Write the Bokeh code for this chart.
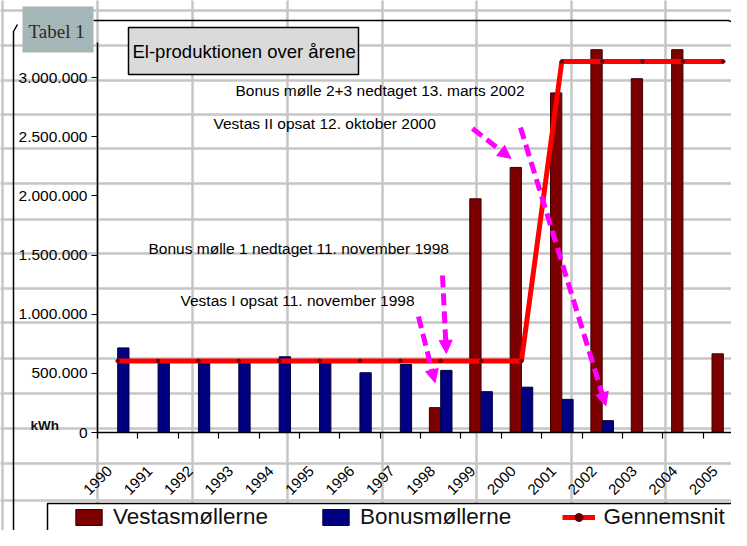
import math
from bokeh.plotting import figure
from bokeh.models import (Range1d, LinearAxis, FixedTicker, Legend, LegendItem,
                          Label, Arrow, NormalHead)
from bokeh.embed import file_html
from bokeh.resources import INLINE

# ---------------- data ----------------
years = ["1990", "1991", "1992", "1993", "1994", "1995", "1996", "1997",
         "1998", "1999", "2000", "2001", "2002", "2003", "2004", "2005"]
vestas = [0, 0, 0, 0, 0, 0, 0, 0,
          210000, 1975000, 2240000, 2870000, 3235000, 2990000, 3235000, 665000]
bonus = [715000, 590000, 590000, 590000, 640000, 585000, 505000, 575000,
         525000, 345000, 383000, 280000, 100000, 0, 0, 0]
gennemsnit = [605000, 605000, 605000, 605000, 605000, 605000, 605000, 605000,
              605000, 605000, 605000, 3135000, 3135000, 3135000, 3135000, 3135000]
y_ticks = [0, 500000, 1000000, 1500000, 2000000, 2500000, 3000000]
y_tick_labels = ["0", "500.000", "1.000.000", "1.500.000", "2.000.000",
                 "2.500.000", "3.000.000"]
series_names = ["Vestasmøllerne", "Bonusmøllerne", "Gennemsnit"]
title_text = "El-produktionen over årene"
tabel_text = "Tabel 1"
unit_text = "kWh"
notes = ["Bonus mølle 2+3 nedtaget 13. marts 2002",
         "Vestas II opsat 12. oktober 2000",
         "Bonus mølle 1 nedtaget 11. november 1998",
         "Vestas I opsat 11. november 1998"]

# ---------------- layout helpers ----------------
W, H = 731, 530
AX_X, AX_Y = 97, 432    # axis origin in canvas pixels
CAT_PX = 40.375         # width of one category
UNIT_PX = 355 / 3e6     # pixels per kWh

def dx(px):
    return (px - AX_X) / CAT_PX

def dy(py):
    return (AX_Y - py) / UNIT_PX

SANS = "Liberation Sans"
SERIF = "Liberation Serif"

n = len(years)
centers = [i + 0.5 for i in range(n)]
bounds_x = [float(i) for i in range(n + 1)]
label_ticks = [round(c - 0.2, 2) for c in centers]   # rotated labels sit slightly left
BW = 0.28

p = figure(width=W, height=H,
           x_range=Range1d(dx(0), dx(W)),
           y_range=Range1d(dy(H), dy(0)),
           output_backend="svg", toolbar_location=None, title=None,
           x_axis_type=None, y_axis_type=None, min_border=0,
           outline_line_color=None, background_fill_color="white",
           border_fill_color="white")

# spreadsheet grid behind the chart
grid_x = [2, 97, 192, 287, 382, 476, 571, 665]
grid_y = [10, 45, 80, 114, 148, 183, 219, 253, 288, 322, 358, 393, 428, 463, 500, 535]
p.segment(x0=[dx(g) for g in grid_x], x1=[dx(g) for g in grid_x],
          y0=[dy(-10)] * len(grid_x), y1=[dy(560)] * len(grid_x),
          line_color="#c6c6c6", line_width=2.5)
p.segment(x0=[dx(-10)] * len(grid_y), x1=[dx(760)] * len(grid_y),
          y0=[dy(g) for g in grid_y], y1=[dy(g) for g in grid_y],
          line_color="#c6c6c6", line_width=2.5)

# outer chart frame (rounded)
p.line(x=[dx(17), dx(13), dx(13), dx(20)], y=[dy(24), dy(31), dy(532), dy(548)],
       line_color="black", line_width=1.5)
p.line(x=[dx(93), dx(728), dx(736), dx(741), dx(743), dx(743)],
       y=[dy(20), dy(20), dy(23), dy(28), dy(35), dy(560)],
       line_color="black", line_width=1.5)

# bars
r_v = p.vbar(x=[c - BW / 2 for c in centers], top=vestas, width=BW,
             fill_color="#7c0000", line_color="#3c0000", line_width=1)
r_b = p.vbar(x=[c + BW / 2 for c in centers], top=bonus, width=BW,
             fill_color="#000080", line_color="#000040", line_width=1)

# average line
r_l = p.line(x=centers, y=gennemsnit, line_color="#ff0000", line_width=5)
r_m = p.scatter(x=centers, y=gennemsnit, size=3.5, fill_color="#600000",
                line_color="#600000")

# axes
yaxis = LinearAxis(fixed_location=0,
                   ticker=FixedTicker(ticks=y_ticks),
                   major_label_overrides={t: l for t, l in zip(y_ticks, y_tick_labels)},
                   bounds=(0, dy(42)))
yaxis.axis_line_color = "black"
yaxis.axis_line_width = 1.5
yaxis.major_tick_out = 6
yaxis.major_tick_in = 0
yaxis.minor_tick_line_color = None
yaxis.major_label_standoff = 4
yaxis.major_label_text_font = SANS
yaxis.major_label_text_font_size = "15.5px"
yaxis.major_label_text_color = "black"
p.add_layout(yaxis, "left")

# x axis line with tick marks at category boundaries
xaxis = LinearAxis(fixed_location=0,
                   ticker=FixedTicker(ticks=[], minor_ticks=bounds_x),
                   bounds=(0, dx(745)))
xaxis.axis_line_color = "black"
xaxis.axis_line_width = 1.5
xaxis.major_tick_out = 0
xaxis.major_tick_in = 0
xaxis.minor_tick_out = 6
xaxis.minor_tick_in = 0
xaxis.minor_tick_line_color = "black"
xaxis.minor_tick_line_width = 1.2
p.add_layout(xaxis, "below")

# rotated year labels
xlab = LinearAxis(fixed_location=0,
                  ticker=FixedTicker(ticks=label_ticks),
                  major_label_overrides={t: y for t, y in zip(label_ticks, years)})
xlab.axis_line_color = None
xlab.major_tick_line_color = None
xlab.minor_tick_line_color = None
xlab.major_label_orientation = math.pi / 4
xlab.major_label_standoff = 30
xlab.major_label_text_font = SANS
xlab.major_label_text_font_size = "15px"
xlab.major_label_text_color = "black"
p.add_layout(xlab, "below")

p.add_layout(Label(x=dx(30), y=dy(425), text=unit_text, text_font=SANS,
                   text_font_size="13.5px", text_font_style="bold",
                   text_baseline="middle", text_color="#111111"))

# annotation texts
note_pos = [(235, 90), (213, 123), (148, 248), (180, 300)]
for t, (lx, ly) in zip(notes, note_pos):
    p.add_layout(Label(x=dx(lx), y=dy(ly), text=t, text_font=SANS,
                       text_font_size="15.5px", text_baseline="middle",
                       text_color="black"))

# magenta dashed arrows (tips placed just above the referenced bars)
def arrow(sx, sy, ex, ey):
    p.add_layout(Arrow(x_start=sx, y_start=sy, x_end=ex, y_end=ey,
                       line_color="#ff00ff", line_width=5, line_dash="12 6",
                       end=NormalHead(size=13, fill_color="#ff00ff",
                                      line_color="#ff00ff", line_width=1)))

i98, i00, i02 = years.index("1998"), years.index("2000"), years.index("2002")
arrow(dx(418), dy(316), centers[i98] - BW / 2, vestas[i98] + 25 / UNIT_PX)
arrow(dx(442), dy(275), centers[i98] + BW / 2, bonus[i98] + 17 / UNIT_PX)
arrow(dx(472), dy(128), centers[i00] - BW / 2 - 0.12, vestas[i00] + 9 / UNIT_PX)
arrow(dx(520), dy(127), centers[i02] + BW / 2 - 0.05, bonus[i02] + 15 / UNIT_PX)

# title box
p.quad(left=[dx(128)], right=[dx(358)], top=[dy(27)], bottom=[dy(74)],
       fill_color="#dadada", line_color="black", line_width=1.5)
p.add_layout(Label(x=dx(132), y=dy(51), text=title_text, text_font=SANS,
                   text_font_size="18.5px", text_baseline="middle",
                   text_color="black"))

# "Tabel 1" sheet tab
p.quad(left=[dx(22)], right=[dx(93)], top=[dy(6)], bottom=[dy(52)],
       fill_color="#a5b6b6", line_color=None)
p.add_layout(Label(x=dx(28), y=dy(31), text=tabel_text, text_font=SERIF,
                   text_font_size="19px", text_baseline="middle",
                   text_color="#2a2a2a"))

# legend box + legend
p.quad(left=[dx(47)], right=[dx(760)], top=[dy(503)], bottom=[dy(570)],
       fill_color="white", line_color="black", line_width=1.5)
legend = Legend(items=[LegendItem(label=series_names[0], renderers=[r_v]),
                       LegendItem(label=series_names[1], renderers=[r_b]),
                       LegendItem(label=series_names[2], renderers=[r_l, r_m])],
                orientation="horizontal", location=(72, 0),
                glyph_width=33, glyph_height=20, label_standoff=8, spacing=51,
                padding=0, margin=0, label_height=20,
                label_text_font=SANS, label_text_font_size="22.5px",
                label_text_color="#111111",
                border_line_color=None, background_fill_alpha=0)
p.add_layout(legend, "center")

open("out.html", "w").write(file_html(p, INLINE))
